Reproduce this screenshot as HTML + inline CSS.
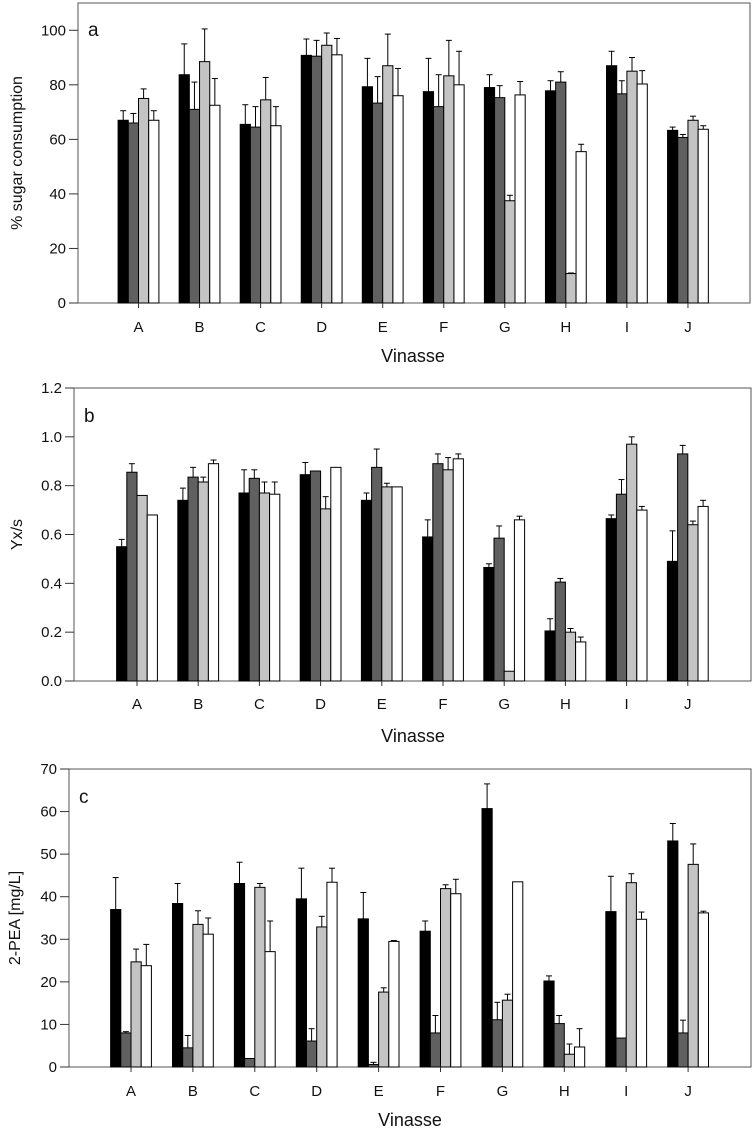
<!DOCTYPE html>
<html><head><meta charset="utf-8"><style>
html,body{margin:0;padding:0;background:#fff;}
svg{display:block;font-family:"Liberation Sans",Arial,sans-serif;}
</style></head><body>
<svg id="chart" width="754" height="1130" viewBox="0 0 754 1130" xmlns="http://www.w3.org/2000/svg"></svg>
<script>
const categories = ["A","B","C","D","E","F","G","H","I","J"];
const seriesColors = ["#000000","#606060","#c4c4c4","#ffffff"];
// Panel a: % sugar consumption
const aValues = [
 [67,83.7,65.5,90.8,79.3,77.5,79,77.8,87,63.3],
 [66,71,64.5,90.5,73.3,72,75.3,81,76.7,60.7],
 [75,88.5,74.5,94.5,87,83.3,37.5,10.8,85,67],
 [67,72.5,65,91,76,80,76.3,55.5,80.3,63.7]];
const aErrTops = [
 [70.5,95,72.7,96.8,89.7,89.7,83.7,81.5,92.3,64.5],
 [69.5,81,72,96.3,83,83.7,79.7,84.8,81.5,61.8],
 [78.5,100.5,82.7,99,98.6,96.3,39.5,11,90,68.5],
 [70.5,82.3,72,97,86,92.3,81.2,58.2,85.2,65]];
const aTicks = [0,20,40,60,80,100];
// Panel b: Yx/s
const bValues = [
 [0.55,0.74,0.77,0.845,0.74,0.59,0.465,0.205,0.665,0.49],
 [0.855,0.835,0.83,0.86,0.875,0.89,0.585,0.405,0.765,0.93],
 [0.76,0.815,0.77,0.705,0.795,0.865,0.04,0.2,0.97,0.64],
 [0.68,0.89,0.765,0.875,0.795,0.91,0.66,0.16,0.70,0.715]];
const bErrTops = [
 [0.58,0.79,0.865,0.895,0.77,0.66,0.48,0.255,0.68,0.615],
 [0.89,0.875,0.865,0.86,0.95,0.93,0.635,0.42,0.825,0.965],
 [0.76,0.835,0.815,0.755,0.81,0.915,0.04,0.215,1.0,0.655],
 [0.68,0.905,0.815,0.875,0.795,0.93,0.675,0.18,0.715,0.74]];
const bTicks = [0,0.2,0.4,0.6,0.8,1.0,1.2];
// Panel c: 2-PEA mg/L
const cValues = [
 [37,38.4,43.1,39.5,34.8,31.9,60.7,20.2,36.5,53.1],
 [8,4.5,2,6.1,0.6,8,11.1,10.2,6.8,8],
 [24.7,33.5,42.2,32.9,17.6,41.9,15.7,3,43.3,47.6],
 [23.8,31.2,27.1,43.4,29.5,40.7,43.5,4.7,34.7,36.2]];
const cErrTops = [
 [44.5,43.1,48.1,46.7,41,34.3,66.5,21.4,44.8,57.2],
 [8.3,7.4,2,9,1.1,12.1,15.2,12.1,6.8,11],
 [27.7,36.7,43.1,35.4,18.6,42.8,17.1,5.4,45.4,52.4],
 [28.8,35,34.3,46.7,29.7,44.1,43.5,9,36.4,36.6]];
const cTicks = [0,10,20,30,40,50,60,70];

const NS="http://www.w3.org/2000/svg";
const svg=document.getElementById('chart');
function el(tag,attrs,parent){const e=document.createElementNS(NS,tag);for(const k in attrs)e.setAttribute(k,attrs[k]);(parent||svg).appendChild(e);return e;}

function panel(cfg){
  const g=el('g',{});
  
  
  const y=v=>cfg.y0-(v-cfg.min)/(cfg.max-cfg.min)*(cfg.y0-cfg.yTop);
  const x=i=>cfg.xA+i*cfg.step;
  const fr=el('rect',{x:cfg.left,y:cfg.yTop,width:cfg.right-cfg.left,height:cfg.y0-cfg.yTop,fill:'none',stroke:'#555','stroke-width':1},g);
  
  
  cfg.ticks.forEach(t=>{
    const yy=y(t);
    el('line',{x1:cfg.left-9,x2:cfg.left,y1:yy,y2:yy,stroke:'#333'},g);
    const tx=el('text',{x:cfg.left-12,y:yy+5,'text-anchor':'end','font-size':15,fill:'#111'},g);
    tx.textContent=cfg.fmt(t);
    
    
  });
  const bw=10.2;
  cfg.values.forEach((ser,s)=>{
    ser.forEach((v,i)=>{
      const bx=x(i)-2*bw+s*bw;
      const r=el('rect',{x:bx,y:y(v),width:bw,height:y(cfg.min)-y(v),fill:seriesColors[s],stroke:'#000','stroke-width':1},g);
      
      
      const et=cfg.errs[s][i];
      if(et>v+0.0001){
        const cx=bx+bw/2;
        el('line',{x1:cx,x2:cx,y1:y(v),y2:y(et),stroke:'#000','stroke-width':1},g);
        el('line',{x1:cx-3,x2:cx+3,y1:y(et),y2:y(et),stroke:'#000','stroke-width':1},g);
      }
    });
  });
  categories.forEach((c,i)=>{
    el('line',{x1:x(i),x2:x(i),y1:cfg.y0,y2:cfg.y0+5,stroke:'#333'},g);
    const t=el('text',{x:x(i),y:cfg.labY,'text-anchor':'middle','font-size':15,fill:'#111'},g);
    t.textContent=c;
    
    
  });
  const xt=el('text',{x:cfg.titX,y:cfg.titY,'text-anchor':'middle','font-size':18,fill:'#111'},g);
  xt.textContent='Vinasse';
  
  
  const yt=el('text',{x:0,y:0,'text-anchor':'middle','font-size':16,fill:'#111',transform:`translate(${cfg.ytX},${(cfg.y0+cfg.yTop)/2}) rotate(-90)`},g);
  yt.textContent=cfg.ytitle;
  
  
  const pl=el('text',{x:cfg.left+10,y:cfg.yTop+cfg.plY,'font-size':19,fill:'#111'},g);
  pl.textContent=cfg.letter;
  
  
}

panel({name:'panel-a-sugar-consumption',values:aValues,errs:aErrTops,ticks:aTicks,min:0,max:110,
  yTop:3,y0:303,left:78,right:750,xA:138.5,step:61.05,labY:332,titY:362,titX:413,ytX:22,
  ytitle:'% sugar consumption',letter:'a',plY:33,fmt:t=>String(t)});
panel({name:'panel-b-yield',values:bValues,errs:bErrTops,ticks:bTicks,min:0,max:1.2,
  yTop:388,y0:681,left:74,right:751,xA:137,step:61.2,labY:709,titY:742,titX:413,ytX:22,
  ytitle:'Yx/s',letter:'b',plY:34,fmt:t=>t.toFixed(1)});
panel({name:'panel-c-2pea',values:cValues,errs:cErrTops,ticks:cTicks,min:0,max:70,
  yTop:769,y0:1067,left:69,right:751,xA:131,step:61.9,labY:1096,titY:1126,titX:410,ytX:20,
  ytitle:'2-PEA [mg/L]',letter:'c',plY:34,fmt:t=>String(t)});
</script>
</body></html>
